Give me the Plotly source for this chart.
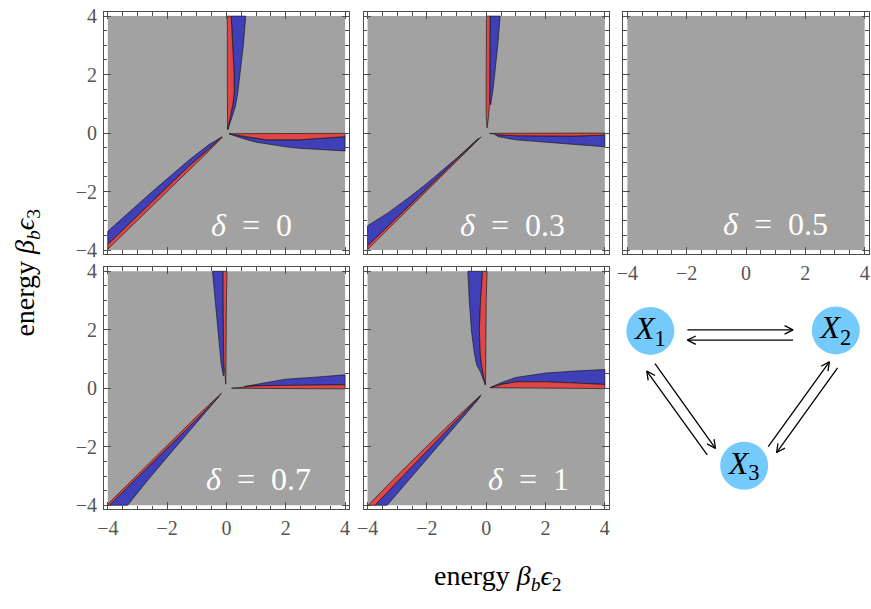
import numpy as np
import plotly.graph_objects as go

W, H = 871, 609
SERIF = "Liberation Serif"

# energy window shown in every panel (beta_b * epsilon)
E_MIN, E_MAX = -4.0, 4.0
DELTAS = ["0", "0.3", "0.5", "0.7", "1"]
LABEL_POS_X = [0.85, 0.89, 1.0, 1.08, 1.44]
LABEL_POS_Y = [-3.15, -3.15, -3.1, -3.1, -3.1]

# boundary polygons (x = beta_b eps_2, y = beta_b eps_3) of the two sign regions
RED_D0 = [
    [(0.04, 0.12), (0.03, 0.6), (0.03, 1.5), (0.03, 2.5), (0.03, 4.0), (0.16, 4.0),
     (0.21, 3.0), (0.26, 2.0), (0.26, 1.35), (0.22, 1.0), (0.12, 0.5), (0.04, 0.12)],
    [(0.1, -0.02), (1.0, -0.02), (2.5, -0.01), (4.0, -0.01), (4.0, -0.12), (3.0, -0.19),
     (2.46, -0.23), (1.35, -0.23), (0.57, -0.12), (0.1, -0.03)],
    [(-0.15, -0.13), (-0.6, -0.55), (-1.27, -1.14), (-2.5, -2.33), (-4.0, -3.81),
     (-4.0, -3.97), (-2.5, -2.5), (-1.27, -1.3), (-0.6, -0.62), (-0.15, -0.15)],
]
BLUE_D0 = [
    [(0.16, 4.0), (0.65, 4.0), (0.57, 3.0), (0.46, 2.0), (0.38, 1.35), (0.3, 0.9),
     (0.16, 0.45), (0.05, 0.12), (0.12, 0.5), (0.22, 1.0), (0.26, 1.35), (0.26, 2.0),
     (0.21, 3.0)],
    [(0.1, -0.03), (0.57, -0.12), (1.35, -0.23), (2.46, -0.23), (3.0, -0.19),
     (4.0, -0.12), (4.0, -0.61), (3.0, -0.56), (2.46, -0.52), (2.0, -0.47),
     (1.35, -0.37), (1.0, -0.31), (0.57, -0.19)],
    [(-0.15, -0.13), (-0.6, -0.4), (-1.27, -0.93), (-2.5, -2.0), (-4.0, -3.36),
     (-4.0, -3.81), (-2.5, -2.33), (-1.27, -1.14), (-0.6, -0.55)],
]
RED_D03 = [
    [(0.03, 0.18), (0.0, 0.6), (0.0, 2.0), (0.01, 4.0), (0.13, 4.0), (0.13, 3.0),
     (0.13, 2.0), (0.11, 1.0), (0.08, 0.57), (0.03, 0.18)],
    [(0.11, -0.01), (1.0, 0.0), (2.5, 0.0), (4.0, 0.0), (4.0, -0.07), (3.0, -0.1),
     (2.0, -0.1), (1.0, -0.09), (0.4, -0.06), (0.11, -0.01)],
    [(-0.17, -0.13), (-1.0, -0.91), (-2.0, -1.9), (-3.0, -2.88), (-4.0, -3.86),
     (-4.0, -3.98), (-3.0, -2.98), (-2.0, -1.98), (-1.0, -0.98), (-0.17, -0.16)],
]
BLUE_D03 = [
    [(0.13, 4.0), (0.47, 4.0), (0.39, 3.0), (0.3, 2.0), (0.23, 1.5), (0.15, 0.96),
     (0.12, 1.2), (0.13, 2.0), (0.13, 3.0)],
    [(0.3, -0.05), (1.0, -0.09), (2.0, -0.1), (3.0, -0.1), (4.0, -0.07), (4.0, -0.47),
     (3.0, -0.39), (2.0, -0.32), (1.0, -0.23), (0.4, -0.12)],
    [(-0.25, -0.17), (-1.0, -0.86), (-2.0, -1.72), (-2.6, -2.2), (-3.3, -2.72),
     (-4.0, -3.17), (-4.0, -3.86), (-3.0, -2.88), (-2.0, -1.9), (-1.0, -0.91),
     (-0.25, -0.17)],
]
RED_D05 = []
BLUE_D05 = []
RED_D07 = [
    [(-0.11, 4.0), (0.02, 4.0), (0.0, 3.0), (0.0, 2.0), (-0.01, 0.9), (-0.02, 0.14),
     (-0.09, 0.9), (-0.11, 2.0), (-0.11, 3.0)],
    [(0.17, 0.0), (0.8, 0.07), (1.0, 0.08), (2.0, 0.1), (3.0, 0.11), (4.0, 0.12),
     (4.0, -0.02), (2.0, -0.01), (0.17, 0.0)],
    [(-0.17, -0.17), (-1.0, -0.96), (-2.0, -1.96), (-3.0, -2.96), (-4.0, -3.96),
     (-4.0, -4.0), (-3.95, -4.0), (-3.0, -3.05), (-2.0, -2.05), (-1.0, -1.06),
     (-0.2, -0.22)],
]
BLUE_D07 = [
    [(-0.47, 4.0), (-0.11, 4.0), (-0.11, 3.0), (-0.11, 2.0), (-0.09, 0.9),
     (-0.1, 0.42), (-0.18, 0.86), (-0.28, 1.97), (-0.39, 3.08)],
    [(0.6, 0.06), (1.0, 0.13), (2.0, 0.31), (3.0, 0.38), (4.0, 0.46), (4.0, 0.12),
     (3.0, 0.11), (2.0, 0.1), (1.0, 0.08)],
    [(-0.25, -0.28), (-1.0, -1.06), (-2.0, -2.05), (-3.0, -3.05), (-3.95, -4.0),
     (-3.33, -4.0), (-2.7, -3.2), (-2.0, -2.36), (-1.1, -1.27), (-0.4, -0.45)],
]
RED_D1 = [
    [(-0.12, 4.0), (0.03, 4.0), (0.0, 3.0), (0.0, 2.0), (-0.01, 1.0), (-0.02, 0.3),
     (-0.03, 0.12), (-0.1, 0.5), (-0.16, 0.8), (-0.2, 1.2), (-0.23, 2.0), (-0.19, 3.0)],
    [(0.13, 0.02), (0.5, 0.13), (1.0, 0.22), (2.0, 0.22), (3.0, 0.18), (4.0, 0.13),
     (4.0, -0.01), (1.0, 0.0), (0.13, 0.02)],
    [(-0.17, -0.22), (-1.0, -1.0), (-2.0, -1.98), (-3.0, -2.98), (-3.98, -4.0),
     (-3.75, -4.0), (-3.0, -3.2), (-2.0, -2.15), (-1.0, -1.1), (-0.2, -0.28)],
]
BLUE_D1 = [
    [(-0.62, 4.0), (-0.12, 4.0), (-0.19, 3.0), (-0.23, 2.0), (-0.2, 1.2), (-0.16, 0.8),
     (-0.1, 0.5), (-0.03, 0.12), (-0.19, 0.55), (-0.32, 0.8), (-0.4, 1.2), (-0.5, 2.0),
     (-0.57, 3.0)],
    [(0.13, 0.02), (0.5, 0.19), (1.0, 0.37), (2.0, 0.52), (3.0, 0.59), (4.0, 0.64),
     (4.0, 0.13), (3.0, 0.18), (2.0, 0.22), (1.0, 0.22), (0.5, 0.13)],
    [(-0.2, -0.28), (-1.0, -1.1), (-2.0, -2.15), (-3.0, -3.2), (-3.75, -4.0),
     (-3.34, -4.0), (-2.0, -2.43), (-1.0, -1.25), (-0.3, -0.42)],
]
RED = [RED_D0, RED_D03, RED_D05, RED_D07, RED_D1]
BLUE = [BLUE_D0, BLUE_D03, BLUE_D05, BLUE_D07, BLUE_D1]

# three-state network: node names and layout positions
NODES = ["1", "2", "3"]
NODE_X = [649.3, 836.5, 744.0]
NODE_Y = [331.5, 331.0, 469.5]
# transitions (tail -> head) drawn between the nodes
ARROW_TAIL_X = [686.7, 793.3, 654.0, 706.7, 768.3, 838.3]
ARROW_TAIL_Y = [330.5, 341.0, 365.0, 458.3, 450.0, 369.3]
ARROW_HEAD_X = [793.3, 686.7, 715.0, 645.7, 830.0, 776.7]
ARROW_HEAD_Y = [330.5, 341.0, 451.7, 372.7, 363.3, 456.0]

GRAY = "#a2a2a2"
RED_C = "#e24545"
BLUE_C = "#3f3fb8"
FRAME = "#4d4d4d"

# panel placement (pixel position of eps=-4 on x, eps=+4 on y)
COL_X = [101.7, 363.9, 626.1]
ROW_Y = [9.3, 270.5]
SIDE = 239.5
PAD = 0.13
PANELS = [(0, 0), (0, 1), (0, 2), (1, 0), (1, 1)]
UNIT = SIDE / (E_MAX - E_MIN)

fig = go.Figure()
layout = {}

for i, (r, c) in enumerate(PANELS):
    n = i + 1
    xa = "x" if n == 1 else f"x{n}"
    ya = "y" if n == 1 else f"y{n}"
    x0 = COL_X[c] - PAD * UNIT
    x1 = COL_X[c] + SIDE + PAD * UNIT
    y0 = ROW_Y[r] - PAD * UNIT
    y1 = ROW_Y[r] + SIDE + PAD * UNIT
    common = dict(
        range=[E_MIN - PAD, E_MAX + PAD], showgrid=False, zeroline=False,
        showline=True, linecolor=FRAME, linewidth=1, mirror="allticks",
        ticks="inside", ticklen=7, tickwidth=1, tickcolor=FRAME,
        tickmode="linear", tick0=0, dtick=2,
        minor=dict(ticks="inside", ticklen=3.5, dtick=0.5, tickcolor=FRAME,
                   showgrid=False),
        tickfont=dict(family=SERIF, size=20, color="#555555"),
        fixedrange=True,
    )
    layout[("xaxis" if n == 1 else f"xaxis{n}")] = dict(
        common, domain=[x0 / W, x1 / W], anchor=ya,
        showticklabels=(r == 1 or c == 2), ticklabelstandoff=1,
    )
    layout[("yaxis" if n == 1 else f"yaxis{n}")] = dict(
        common, domain=[1 - y1 / H, 1 - y0 / H], anchor=xa,
        showticklabels=(c == 0), ticklabelstandoff=2,
    )

    fig.add_trace(go.Scatter(
        x=[E_MIN, E_MAX, E_MAX, E_MIN, E_MIN], y=[E_MIN, E_MIN, E_MAX, E_MAX, E_MIN],
        fill="toself", fillcolor=GRAY, line=dict(width=0), mode="lines",
        hoverinfo="skip", showlegend=False, xaxis=xa, yaxis=ya,
    ))
    for polys, col in ((BLUE[i], BLUE_C), (RED[i], RED_C)):
        for poly in polys:
            px = [p[0] for p in poly] + [poly[0][0]]
            py = [p[1] for p in poly] + [poly[0][1]]
            fig.add_trace(go.Scatter(
                x=px, y=py, fill="toself", fillcolor=col, mode="lines",
                line=dict(color="rgba(25,25,25,0.85)", width=0.8),
                hoverinfo="skip", showlegend=False, xaxis=xa, yaxis=ya,
            ))

    fig.add_annotation(
        x=LABEL_POS_X[i], y=LABEL_POS_Y[i], xref=xa, yref=ya,
        text=f"<i>δ</i>\u2002=\u2002{DELTAS[i]}", showarrow=False,
        font=dict(family=SERIF, size=32, color="white"),
        xanchor="center", yanchor="middle",
    )

# network sketch in its own invisible axis pair (units are screen pixels)
layout["xaxis6"] = dict(domain=[600 / W, 1.0], range=[600, 871], visible=False,
                        fixedrange=True, anchor="y6")
layout["yaxis6"] = dict(domain=[1 - 520 / H, 1 - 290 / H], range=[520, 290],
                        visible=False, fixedrange=True, anchor="x6")

HEAD_LEN, HEAD_HALF = 8.5, 4.3
for tx, ty, hx, hy in zip(ARROW_TAIL_X, ARROW_TAIL_Y, ARROW_HEAD_X, ARROW_HEAD_Y):
    d = np.array([hx - tx, hy - ty])
    d = d / np.hypot(*d)
    nrm = np.array([-d[1], d[0]])
    tip = np.array([hx, hy])
    w1 = tip - HEAD_LEN * d + HEAD_HALF * nrm
    w2 = tip - HEAD_LEN * d - HEAD_HALF * nrm
    fig.add_trace(go.Scatter(
        x=[tx, hx, None, w1[0], hx, w2[0]], y=[ty, hy, None, w1[1], hy, w2[1]],
        mode="lines", line=dict(color="black", width=1.3),
        hoverinfo="skip", showlegend=False, xaxis="x6", yaxis="y6",
    ))

fig.add_trace(go.Scatter(
    x=NODE_X, y=NODE_Y, mode="markers+text",
    marker=dict(size=48, color="#74cbfb", line=dict(width=0)),
    text=[f"<i>X</i><sub>{k}</sub>" for k in NODES], textposition="middle center",
    textfont=dict(family=SERIF, size=32, color="black"),
    hoverinfo="skip", showlegend=False, xaxis="x6", yaxis="y6",
))

# shared axis titles
fig.add_annotation(
    x=496 / W, y=1 - 584 / H, xref="paper", yref="paper", showarrow=False,
    text="energy <i>β</i><sub><i>b</i></sub><i>ϵ</i><sub>2</sub>",
    font=dict(family=SERIF, size=28, color="black"),
    xanchor="center", yanchor="middle",
)
fig.add_annotation(
    x=20 / W, y=1 - 272 / H, xref="paper", yref="paper", showarrow=False,
    text="energy <i>β</i><sub><i>b</i></sub><i>ϵ</i><sub>3</sub>", textangle=-90,
    font=dict(family=SERIF, size=28, color="black"),
    xanchor="center", yanchor="middle",
)

fig.update_layout(
    width=W, height=H, margin=dict(l=0, r=0, t=0, b=0),
    paper_bgcolor="white", plot_bgcolor="rgba(0,0,0,0)",
    showlegend=False, **layout,
)

fig.write_html("out.html", config={"displayModeBar": False})
